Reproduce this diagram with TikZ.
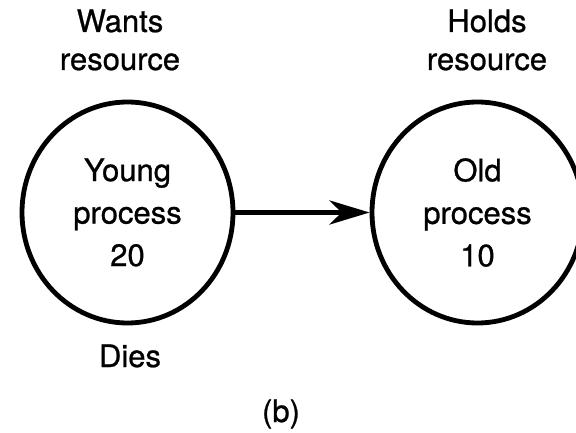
\documentclass[tikz,border=0pt]{standalone}
\usepackage{fontspec}
\setmainfont[FakeBold=0.8]{TeX Gyre Heros}
\usetikzlibrary{shapes.geometric,arrows.meta}
\begin{document}
\begin{tikzpicture}[x=1pt,y=1pt,
  proc/.style={draw, ellipse, line width=4.8pt, minimum width=211pt, minimum height=221pt,
    inner sep=0pt, align=center, font=\fontsize{31}{42.5}\selectfont},
  lbl/.style={anchor=base, align=center, inner sep=0pt, font=\fontsize{31}{38}\selectfont},
  link/.style={line width=5pt, -{Stealth[length=40pt, width=24pt, inset=12pt]}}]
  \useasboundingbox (0,0) rectangle (576,432);
  % the two processes
  \node[proc] (young) at (127.5,219.5) {Young\\process\\20};
  \node[proc] (old) at (477.5,219.5) {Old\\process\\10};
  % the young process waits on the old one
  \draw[link] (young.east) -- (old.west);
  % labels (base anchor sits on the last line)
  \node[lbl] (wants) at (120,362) {Wants\\resource};
  \node[lbl] (holds) at (487,362) {Holds\\resource};
  \node[lbl] (dies) at (130,65) {Dies};
  \node[lbl] (caption) at (281,10) {(b)};
\end{tikzpicture}
\end{document}
